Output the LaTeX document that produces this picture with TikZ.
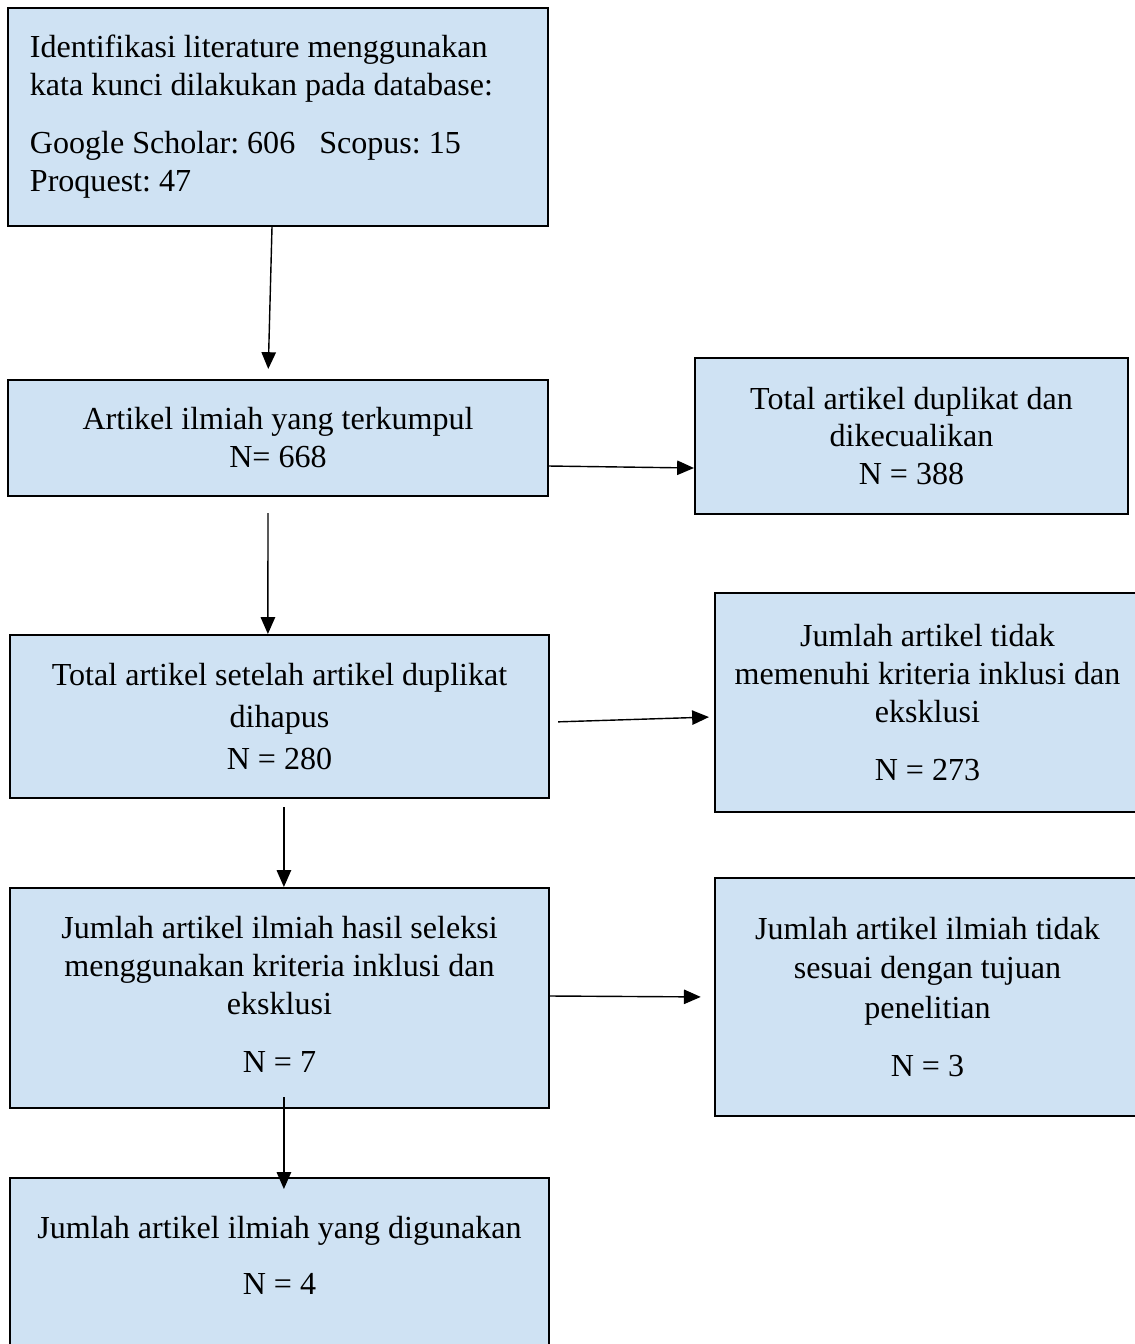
\documentclass[tikz,border=0pt]{standalone}
\usepackage{fontspec}
\setmainfont{Liberation Serif}
\usetikzlibrary{arrows.meta}
\definecolor{kotakbiru}{RGB}{207,226,243}

\begin{document}
\begin{tikzpicture}[x=0.025cm, y=-0.025cm,
	kotak/.style={draw, fill=kotakbiru, line width=1.4pt, align=center, inner sep=0pt,
		font=\fontsize{22.8}{27}\selectfont\frenchspacing},
	panah/.style={-{Triangle[length=0.42cm,width=0.36cm]}, line width=1pt}]
	\useasboundingbox (0,0) rectangle (1134,1344);

	% kolom kiri
	\node[kotak, minimum width=13.5cm, minimum height=5.45cm, text width=12.4cm, align=flush left] (ident) at (278,117)
	{Identifikasi literature menggunakan\\ kata kunci dilakukan pada database:\\[0.5cm]
	Google Scholar: 606\hspace{0.6cm}Scopus: 15\\ Proquest: 47};
	\node[kotak, minimum width=13.5cm, minimum height=2.9cm] (artikel) at (278,438)
	{Artikel ilmiah yang terkumpul\\ N= 668};
	\node[kotak, minimum width=13.475cm, minimum height=4.075cm] (total) at (279.5,716.5)
	{Total artikel setelah artikel duplikat\\[0.1cm] dihapus\\[0.1cm] N = 280};
	\node[kotak, minimum width=13.475cm, minimum height=5.5cm, text depth=0.2cm] (seleksi) at (279.5,998)
	{Jumlah artikel ilmiah hasil seleksi\\ menggunakan kriteria inklusi dan\\ eksklusi\\[0.5cm] N = 7};
	\node[kotak, minimum width=13.475cm, minimum height=4.45cm, text depth=0.6cm] (pakai) at (279.5,1267)
	{Jumlah artikel ilmiah yang digunakan\\[0.45cm] N = 4};

	% kolom kanan
	\node[kotak, minimum width=10.825cm, minimum height=3.9cm] (duplikat) at (911.5,436)
	{Total artikel duplikat dan\\ dikecualikan\\ N = 388};
	\node[kotak, minimum width=10.625cm, minimum height=5.475cm] (tidak) at (927.5,702.5)
	{Jumlah artikel tidak\\ memenuhi kriteria inklusi dan\\ eksklusi\\[0.5cm] N = 273};
	\node[kotak, minimum width=10.625cm, minimum height=5.95cm] (sesuai) at (927.5,997)
	{Jumlah artikel ilmiah tidak\\[0.05cm] sesuai dengan tujuan\\[0.05cm] penelitian\\[0.5cm] N = 3};

	% panah
	\draw[panah, shorten >=0.25cm] ([xshift=-0.15cm]ident.south) -- ([xshift=-0.25cm]artikel.north);
	\draw[panah, shorten <=0.4cm] ([xshift=-0.25cm]artikel.south) -- ([xshift=-0.29cm]total.north);
	\draw[panah, shorten <=0.2cm] ([xshift=0.11cm]total.south) -- ([xshift=0.11cm]seleksi.north);
	\draw[panah, shorten <=-0.3cm, shorten >=-0.3cm] ([xshift=0.11cm]seleksi.south) -- ([xshift=0.11cm]pakai.north);
	\draw[panah] ([yshift=-0.7cm]artikel.east) -- ([yshift=-0.8cm]duplikat.west);
	\draw[panah, shorten <=0.2cm, shorten >=0.125cm] ([yshift=-0.14cm]total.east) -- ([yshift=-0.36cm]tidak.west);
	\draw[panah, shorten >=0.33cm] ([yshift=0.05cm]seleksi.east) -- (sesuai.west);
\end{tikzpicture}
\end{document}
